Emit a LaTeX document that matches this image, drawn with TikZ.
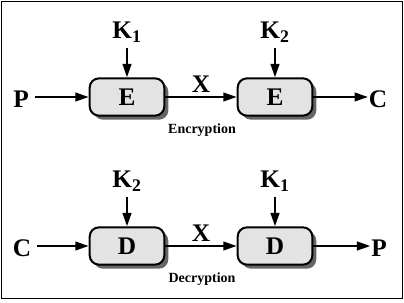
\documentclass[tikz,border=0pt]{standalone}
\usepackage{fontspec}
\setmainfont{Liberation Serif}
\usepackage{xcolor}
\usetikzlibrary{arrows.meta,positioning,shadows}
\definecolor{blkfill}{HTML}{E3E3E3}
\definecolor{blkshade}{HTML}{555555}
\tikzset{
  blk/.style={draw, line width=1.5pt, rounded corners=7pt, fill=blkfill, minimum width=56pt, minimum height=28pt,
    drop shadow={shadow xshift=3pt, shadow yshift=-3pt, fill=blkshade, opacity=0.9}, font=\fontsize{19}{22}\selectfont\bfseries},
  lbl/.style={font=\fontsize{19}{22}\selectfont\bfseries, inner sep=0.5pt},
  capt/.style={font=\fontsize{10.5}{12}\selectfont\bfseries},
  flow/.style={->, line width=1.5pt}
}
\begin{document}
\begin{tikzpicture}[x=0.75pt, y=-0.75pt, >={Triangle[length=10pt,width=6.5pt]}]
\useasboundingbox (0,0) rectangle (404,303);
\draw[line width=0.9pt] (1.5,1.5) rectangle (402.5,298.5);
% encryption
\node[blk] (E1) at (127,97) {E};
\node[blk] (E2) at (275,97) {E};
\node[lbl] (P1) at (21,99) {P};
\node[lbl] (C1) at (378,99) {C};
\node[lbl, anchor=base] (K1) at (127,39) {K\textsubscript{1}};
\node[lbl, anchor=base] (K2) at (275,39) {K\textsubscript{2}};
\draw[flow, shorten <=4pt] (P1.east |- E1.west) -- (E1.west);
\draw[flow] (E1.east) -- node[lbl, above=2pt] (X1) {X} (E2.west);
\draw[flow] (E2.east) -- (C1.west |- E2.east);
\draw[flow, shorten <=3pt] (K1.south -| E1.north) -- (E1.north);
\draw[flow, shorten <=3pt] (K2.south -| E2.north) -- (E2.north);
\node[capt] (enc) at (202,130) {Encryption};
% decryption
\node[blk] (D1) at (127,246) {D};
\node[blk] (D2) at (275,246) {D};
\node[lbl] (C2) at (22,248) {C};
\node[lbl] (P2) at (379,248) {P};
\node[lbl, anchor=base] (K3) at (127,188) {K\textsubscript{2}};
\node[lbl, anchor=base] (K4) at (275,188) {K\textsubscript{1}};
\draw[flow, shorten <=4pt] (C2.east |- D1.west) -- (D1.west);
\draw[flow] (D1.east) -- node[lbl, above=2pt] (X2) {X} (D2.west);
\draw[flow] (D2.east) -- (P2.west |- D2.east);
\draw[flow, shorten <=3pt] (K3.south -| D1.north) -- (D1.north);
\draw[flow, shorten <=3pt] (K4.south -| D2.north) -- (D2.north);
\node[capt] (dec) at (202,279) {Decryption};
\end{tikzpicture}
\end{document}
